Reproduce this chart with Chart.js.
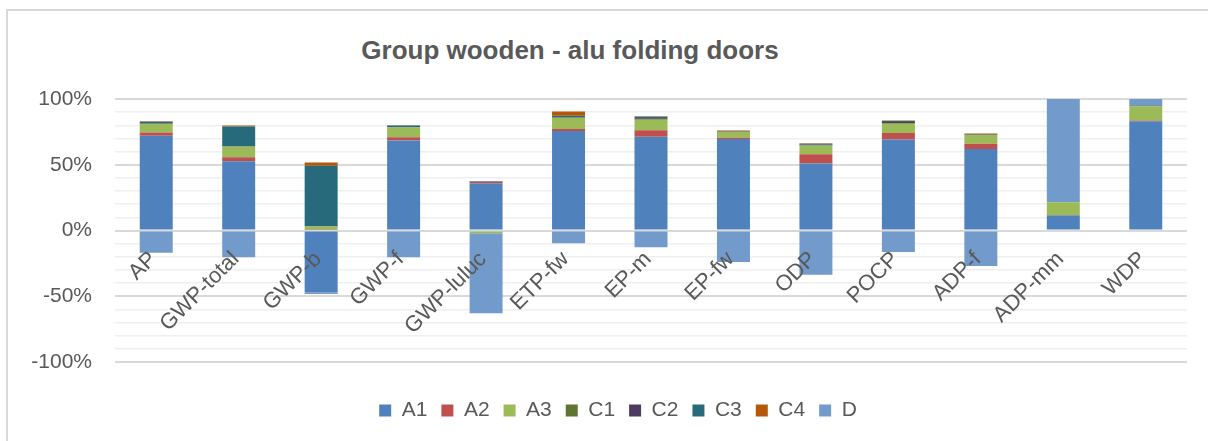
<!DOCTYPE html>
<html>
<head>
<meta charset="utf-8">
<script src="https://cdn.jsdelivr.net/npm/chart.js@4/dist/chart.umd.min.js"></script>
<style>
    html, body { margin: 0; padding: 0; background: #fff; overflow: hidden; }
    body { width: 1208px; height: 441px; position: relative; }
    .frame {
        position: absolute; left: 6px; top: 9px;
        width: 1260px; height: 460px;
        border-left: 2px solid #d9d9d9; border-top: 2px solid #d9d9d9;
    }
    .title {
        position: absolute; left: 0; top: 35px; width: 1140px;
        text-align: center; line-height: 26px;
        font: bold 26px "Liberation Sans", Arial, sans-serif; color: #595959;
    }
    #lcaChart { position: absolute; left: 8px; top: 11px; }
</style>
</head>
<body>
<div class="frame"></div>
<div class="title">Group wooden - alu folding doors</div>
<canvas id="lcaChart" width="1220" height="430"></canvas>
<script>
const categories = ['AP', 'GWP-total', 'GWP-b', 'GWP-f', 'GWP-luluc', 'ETP-fw', 'EP-m', 'EP-fw', 'ODP', 'POCP', 'ADP-f', 'ADP-mm', 'WDP'];

// share of each module in %
const a1 = [72, 52.7, -47, 68.5, 36, 75.6, 71.3, 69.5, 51, 69.2, 62, 11.5, 83];
const a2 = [2.5, 3, 0.5, 2.5, 1, 1.5, 5, 1, 7, 5, 4, 0.3, 0.6];
const a3 = [6.5, 8, 2.5, 7.4, -2, 8.5, 8, 4.5, 6.4, 7, 6.6, 9.7, 10.7];
const c1 = [0.2, 0.1, 0.1, 0.1, 0.1, 0.3, 0.5, 0.2, 0.5, 0.6, 0.2, 0, 0.1];
const c2 = [0.3, 0.2, 0.1, 0.2, 0.2, 0.3, 0.5, 0.2, 0.5, 0.7, 0.3, 0, 0.1];
const c3 = [1.2, 15, 46, 1.2, 0.2, 1, 1.2, 0.3, 0.6, 0.8, 0.3, 0, 0.6];
const c4 = [0.3, 0.8, 2.5, 0.2, 0.2, 3.3, 0.3, 0.3, 0.3, 0.3, 0.3, 0, 0.1];
const d = [-17, -20.3, -1.2, -20.3, -61, -9.7, -12.7, -24, -33.6, -16.3, -27, 78.5, 4.8];

const yMin = -100;
const yMax = 100;
const yStep = 10;
const yLabelStep = 50;

const textColor = '#595959';
const fontFamily = '"Liberation Sans", Arial, sans-serif';

const series = [
    { label: 'A1', data: a1, color: '#4F81BD' },
    { label: 'A2', data: a2, color: '#C0504D' },
    { label: 'A3', data: a3, color: '#9BBB59' },
    { label: 'C1', data: c1, color: '#5F7530' },
    { label: 'C2', data: c2, color: '#4D3B62' },
    { label: 'C3', data: c3, color: '#276A7C' },
    { label: 'C4', data: c4, color: '#B65708' },
    { label: 'D', data: d, color: '#729ACA' },
];

new Chart(document.getElementById('lcaChart'), {
    type: 'bar',
    data: {
        labels: categories,
        datasets: series.map((s) => ({
            label: s.label,
            data: s.data,
            backgroundColor: s.color,
            borderWidth: 0,
            categoryPercentage: 0.5,
            barPercentage: 0.8,
        })),
    },
    options: {
        responsive: false,
        animation: false,
        layout: {
            padding: { top: 88, right: 0, bottom: 10, left: 0 },
        },
        plugins: {
            title: { display: false },
            tooltip: { enabled: false },
            legend: {
                position: 'bottom',
                title: {
                    display: true,
                    text: '',
                    font: { size: 10, lineHeight: 1 },
                    padding: { top: 0, bottom: 14 },
                },
                labels: {
                    boxWidth: 12,
                    boxHeight: 12,
                    padding: 14,
                    color: textColor,
                    font: { family: fontFamily, size: 21 },
                },
            },
        },
        scales: {
            x: {
                stacked: true,
                position: { y: 0 },
                grid: { display: false },
                border: { display: false },
                ticks: {
                    z: 1,
                    autoSkip: false,
                    minRotation: 45,
                    maxRotation: 45,
                    padding: 8,
                    labelOffset: -3,
                    color: textColor,
                    font: { family: fontFamily, size: 22 },
                },
            },
            y: {
                stacked: true,
                min: yMin,
                max: yMax,
                afterFit(scale) {
                    scale.width = 107;
                },
                border: { display: false },
                grid: {
                    drawTicks: false,
                    color: (ctx) => (ctx.tick && ctx.tick.value % yLabelStep === 0 ? '#d9d9d9' : '#efefef'),
                    lineWidth: (ctx) => (ctx.tick && ctx.tick.value % yLabelStep === 0 ? 2 : 1.5),
                },
                ticks: {
                    stepSize: yStep,
                    autoSkip: false,
                    padding: 23,
                    color: textColor,
                    font: { family: fontFamily, size: 21 },
                    callback: (value) => (value % yLabelStep === 0 ? value + '%' : ''),
                },
            },
            // empty right-hand space so the plot stops where the reference does
            yRight: {
                type: 'linear',
                position: 'right',
                afterFit(scale) {
                    scale.width = 41;
                },
                grid: { display: false },
                border: { display: false },
                ticks: { display: false },
            },
        },
    },
});
</script>
</body>
</html>
